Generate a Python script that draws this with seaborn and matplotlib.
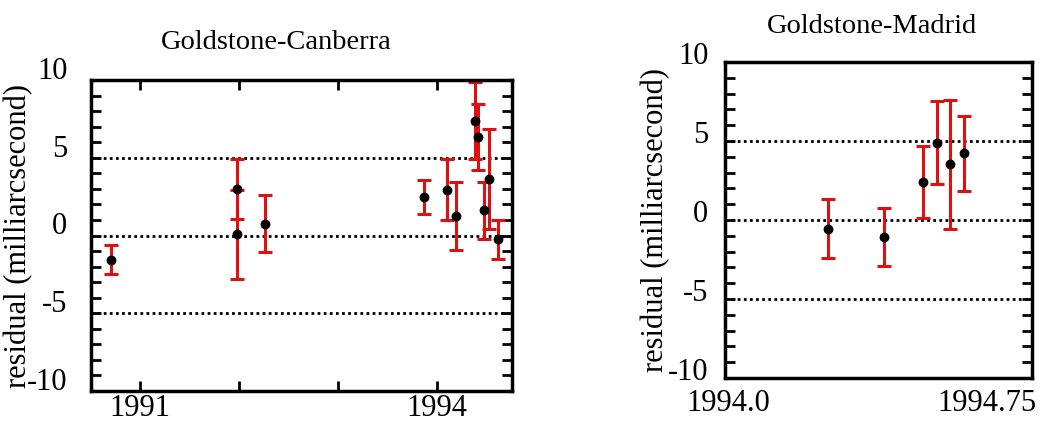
import numpy as np
import pandas as pd
import matplotlib
matplotlib.use("Agg")
import matplotlib.pyplot as plt
import matplotlib.transforms as mtransforms
import seaborn as sns

# Goldstone-Canberra data
gc_year = [1990.71, 1991.98, 1991.98, 1992.26, 1993.87, 1994.10, 1994.19,
           1994.39, 1994.42, 1994.48, 1994.53, 1994.62]
gc_resid = [-1.55, 2.99, 0.08, 0.76, 2.46, 2.94, 1.25, 7.37, 6.33, 1.61, 3.62, -0.25]
gc_err = [0.92, 1.95, 2.87, 1.85, 1.08, 1.95, 2.19, 2.47, 2.12, 1.84, 3.22, 1.27]

# Goldstone-Madrid data
gm_year = [1994.29, 1994.45, 1994.563, 1994.605, 1994.643, 1994.684]
gm_resid = [-0.55, -1.07, 2.42, 4.88, 3.52, 4.21]
gm_err = [1.86, 1.84, 2.29, 2.63, 4.06, 2.37]

titles = ["Goldstone-Canberra", "Goldstone-Madrid"]
gc_xticks = [1991, 1994]
gm_xticks = [1994.0, 1994.75]
gm_xticklabels = ["1994.0", "1994.75"]
yticks = [-10, -5, 0, 5, 10]
ref_lines = [-5, 0, 5]

sns.set_theme(style="white")
plt.rcParams['font.family'] = ['Liberation Serif', 'DejaVu Serif']

W, H = 1040, 425
fig = plt.figure(figsize=(W / 100, H / 100), dpi=100)

def add_ax(x0, y0, x1, y1):
    return fig.add_axes([x0 / W, 1 - y1 / H, (x1 - x0) / W, (y1 - y0) / H])

ax1 = add_ax(91, 80, 512, 391)
ax2 = add_ax(725, 62, 1032, 378)

red = "#dd1111"
fs = 22

def draw(ax, xs, ys, es, title, title_x, ypad, yshift):
    for yl in ref_lines:
        ax.axhline(yl, color="black", linestyle=(0, (1, 1.2)), linewidth=2.0, zorder=1)
    ax.errorbar(xs, ys, yerr=es, fmt="none", ecolor=red, elinewidth=2.2,
                capsize=5, capthick=2.2, zorder=2)
    df = pd.DataFrame({"x": xs, "y": ys})
    sns.scatterplot(data=df, x="x", y="y", ax=ax, color="black", s=50,
                    edgecolor="black", linewidth=0, zorder=3)
    ax.set_ylim(-10, 10)
    ax.set_yticks(np.arange(-10, 11, 1), minor=False)
    ax.set_yticklabels([str(v) if v in yticks else "" for v in range(-10, 11)])
    ax.tick_params(axis="y", direction="in", length=7, width=2, left=True,
                   right=True, labelsize=fs, pad=ypad, colors="black")
    ax.set_xlabel("")
    ax.set_ylabel("residual (milliarcsecond)", fontsize=fs, color="black")
    ax.set_title(title, fontsize=20.5, pad=0, color="black", x=title_x, y=1.0)
    for sp in ax.spines.values():
        sp.set_linewidth(2.5)
        sp.set_color("black")
        sp.set_visible(True)
    off = mtransforms.ScaledTranslation(0, yshift / 100, fig.dpi_scale_trans)
    for lab in ax.get_yticklabels():
        lab.set_transform(lab.get_transform() + off)

draw(ax1, gc_year, gc_resid, gc_err, titles[0], 0.44, 17, 12)
ax1.title.set_position((0.44, 1 + 31 / 311))
ax1.set_xlim(1990.505, 1994.76)
ax1.set_xticks(gc_xticks + [1992, 1993])
ax1.set_xticklabels([str(v) for v in gc_xticks] + ["", ""])
ax1.tick_params(axis="x", direction="in", length=7, width=2, top=True,
                bottom=True, labelsize=fs, pad=2, colors="black")
ax1.yaxis.set_label_coords(-0.138, 0.5)

draw(ax2, gm_year, gm_resid, gm_err, titles[1], 0.479, 12, 9)
ax2.title.set_position((0.479, 1 + 29 / 316))
ax2.set_xlim(1993.99, 1994.88)
ax2.set_xticks(gm_xticks)
ax2.set_xticklabels(gm_xticklabels)
ax2.tick_params(axis="x", direction="in", length=0, labelsize=fs, pad=8,
                colors="black")
ax2.yaxis.set_label_coords(-0.18, 0.5)

fig.savefig("out.png", dpi=100)
